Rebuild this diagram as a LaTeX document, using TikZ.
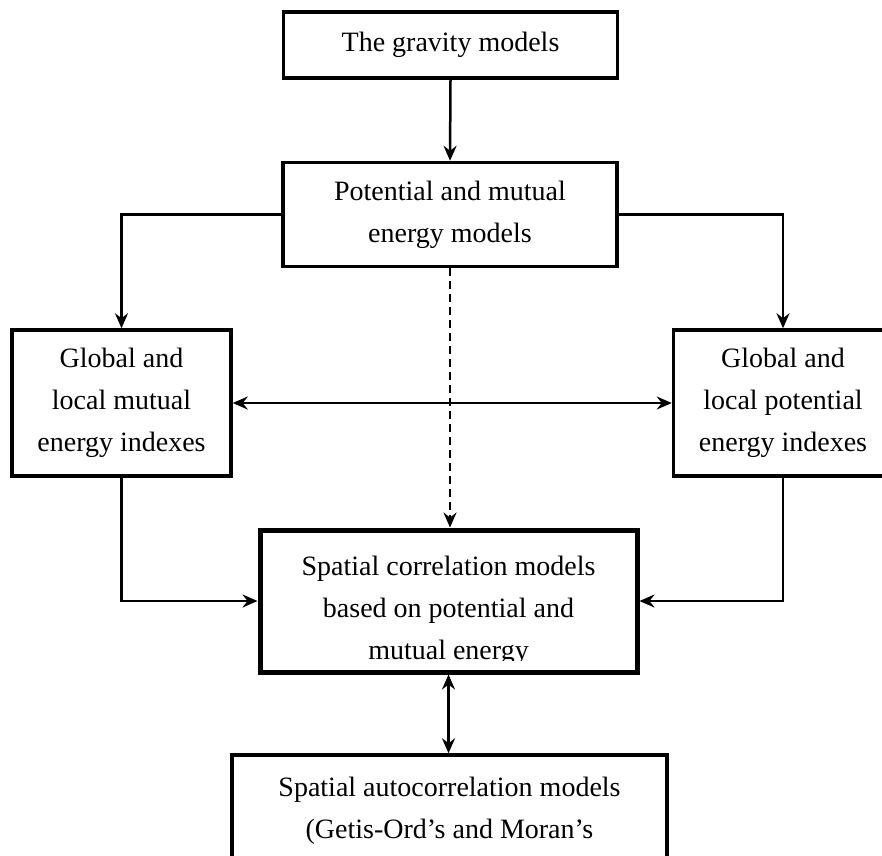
\documentclass[tikz,border=0pt]{standalone}
\usepackage{fontspec}
\setmainfont{Liberation Serif}
\usetikzlibrary{arrows.meta}
\begin{document}
\begin{tikzpicture}[x=1pt,y=-1pt,
  box/.style={draw, line width=3.5pt, inner sep=0pt, align=center,
    font=\fontsize{28}{42}\selectfont},
  thickbox/.style={box, line width=5pt},
  txt/.style={inner sep=0pt, align=center, font=\fontsize{28}{42}\selectfont},
  tip/.style={Stealth[length=15pt,width=13pt,inset=5pt]},
  conn/.style={line width=2.5pt, -{Stealth[length=15pt,width=13pt,inset=5pt]}},
  bconn/.style={line width=2.5pt, {Stealth[length=15pt,width=13pt,inset=5pt]}-{Stealth[length=15pt,width=13pt,inset=5pt]}},
  dconn/.style={conn, line width=2pt, dash pattern=on 8pt off 5pt}]
\useasboundingbox (0,0) rectangle (882,855);
\clip (0,0) rectangle (882,855);
\fill[white] (0,0) rectangle (882,855);

\node[box, minimum width=334pt, minimum height=66pt] (grav) at (450.5,45) {The gravity models};
\node[box, minimum width=334pt, minimum height=104pt] (pot) at (450,214.5) {Potential and mutual\\energy models};
\node[box, minimum width=219pt, minimum height=146pt] (mutual) at (121.5,403) {Global and\\local mutual\\energy indexes};
\node[box, minimum width=219pt, minimum height=146pt] (potidx) at (783,403) {Global and\\local potential\\energy indexes};
\node[thickbox, minimum width=377pt, minimum height=142pt] (corr) at (448.5,601) {};
\begin{scope}
  \clip (262,533) rectangle (635,660);
  \node[txt] (corrtext) at (448.5,611) {Spatial correlation models\\based on potential and\\mutual energy};
\end{scope}
\node[box, minimum width=435pt, minimum height=146pt] (auto) at (449.5,828) {};
\node[txt] (autotext) at (449.5,811) {Spatial autocorrelation models\\(Getis-Ord’s and Moran’s};

\draw[conn] (grav.south) -- (pot.north);
\draw[conn] (pot.west) -| (mutual.north);
\draw[conn] (pot.east) -| (potidx.north);
\draw[dconn] (pot.south) -- (pot.south |- corr.north);
\draw[bconn] (mutual.east) -- (potidx.west);
\draw[conn] (mutual.south) |- (corr.west);
\draw[conn] (potidx.south) |- (corr.east);
\draw[bconn] (corr.south) -- (corr.south |- auto.north);
\end{tikzpicture}
\end{document}
